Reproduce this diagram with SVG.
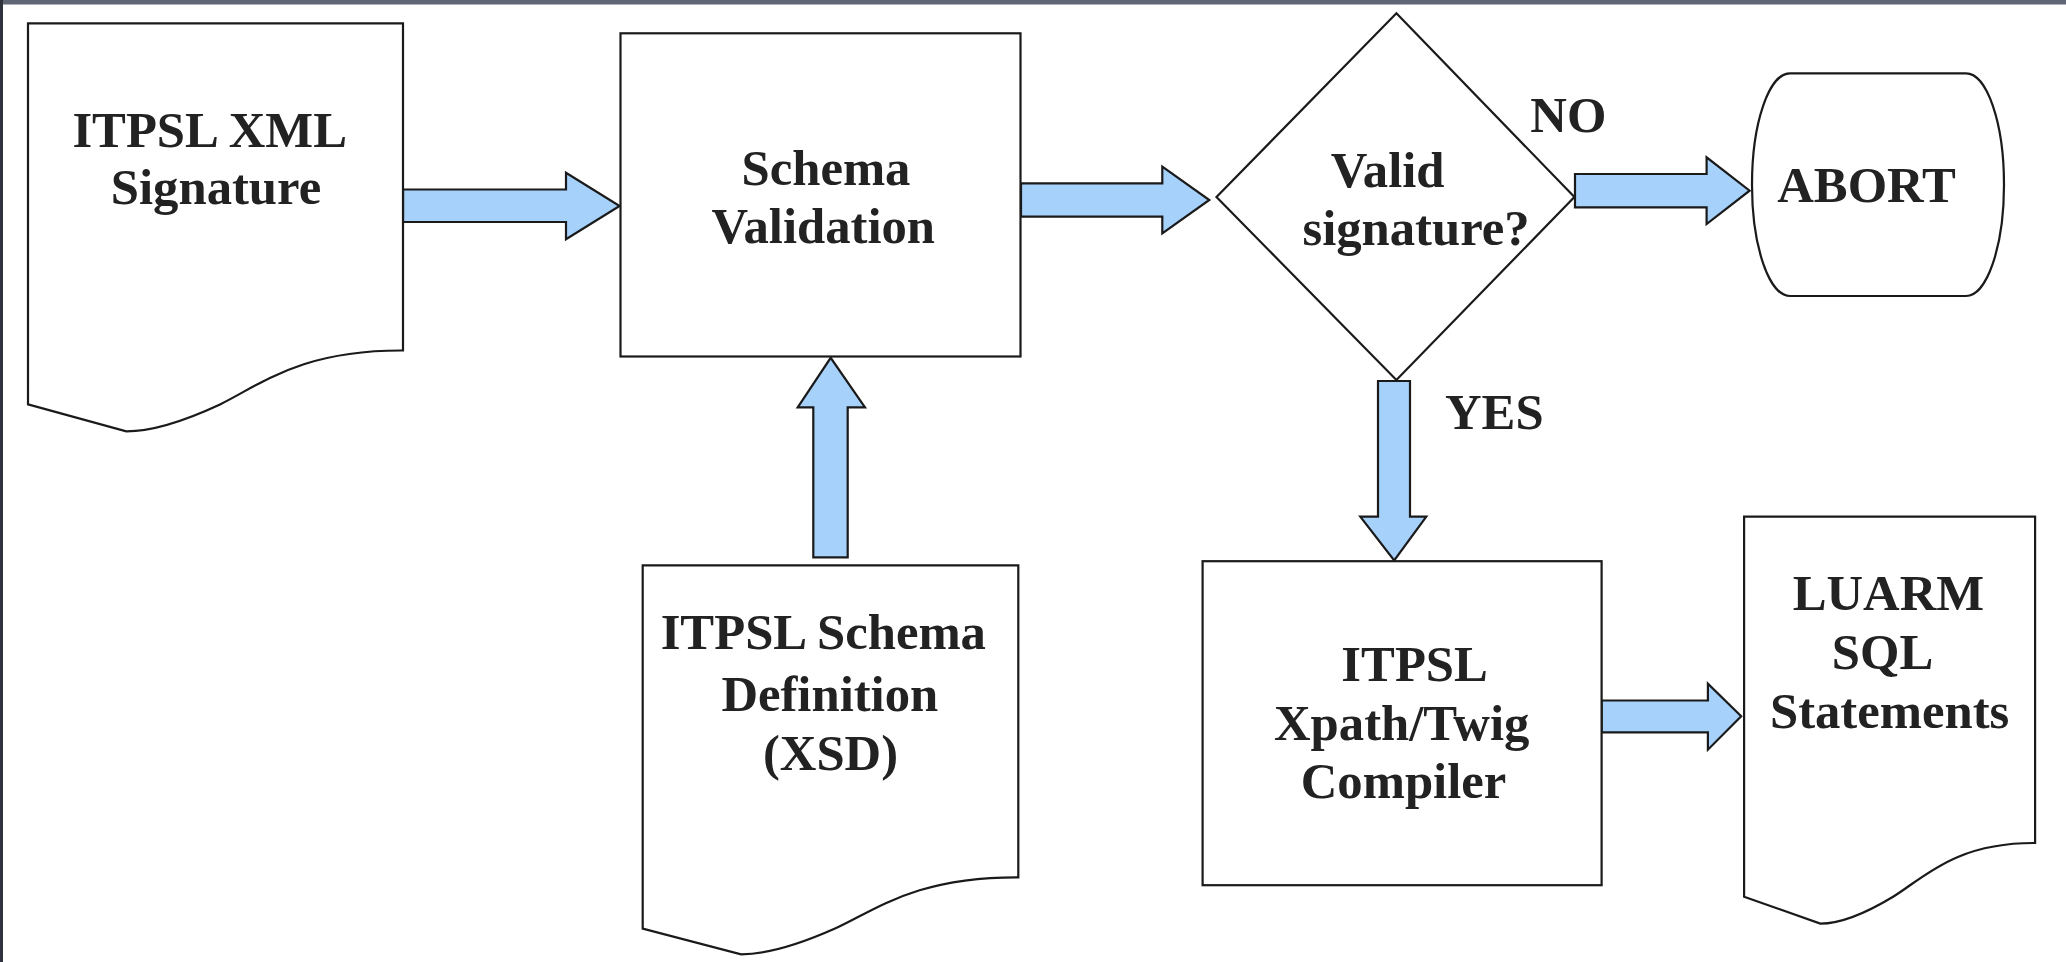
<svg xmlns="http://www.w3.org/2000/svg" width="2066" height="962" viewBox="0 0 2066 962">
<style>
.shape{fill:#ffffff;stroke:#1a1a1a;stroke-width:2.2;stroke-linejoin:miter}
.arrow{fill:#a6d1fa;stroke:#1a1a1a;stroke-width:2.2;stroke-linejoin:miter}
.t{font-family:"Liberation Serif","Times New Roman",serif;font-weight:bold;font-size:50.7px;fill:#222222;text-anchor:middle}
.ts{text-anchor:start}
</style>
<rect x="0" y="0" width="2066" height="962" fill="#ffffff"/>
<rect x="0" y="0" width="2066" height="4.5" fill="#606676"/>
<rect x="0" y="0" width="3" height="962" fill="#2f333d"/>

<g id="connectors">
<polygon class="arrow" points="403,189.5 566,189.5 566,172.7 619.6,206 566,239.3 566,222 403,222"/>
<polygon class="arrow" points="1021,183.3 1162.3,183.3 1162.3,166.7 1209.3,200 1162.3,233.3 1162.3,216.7 1021,216.7"/>
<polygon class="arrow" points="1575,174 1706.6,174 1706.6,157.3 1749.6,190.7 1706.6,224 1706.6,207.3 1575,207.3"/>
<polygon class="arrow" points="813.3,557.4 813.3,407.4 797.7,407.4 830.7,357.8 865,407.4 847.7,407.4 847.7,557.4"/>
<polygon class="arrow" points="1378,381 1410,381 1410,516.6 1426.3,516.6 1394.2,560.4 1360.3,516.6 1378,516.6"/>
<polygon class="arrow" points="1601.6,700.5 1707.9,700.5 1707.9,683.6 1741.2,716.3 1707.9,749.7 1707.9,732.4 1601.6,732.4"/>
</g>

<g id="doc-xml-signature">
<path class="shape" d="M28,23.3 H403 V350.5 C300,350 260,385 220,404.4 C180,423 150,431.3 126.3,431.3 L28,404.4 Z"/>
<text class="t" x="209.7" y="146.7">ITPSL XML</text>
<text class="t" x="216" y="204">Signature</text>
</g>

<g id="schema-validation">
<rect class="shape" x="620.5" y="33.3" width="400" height="323.2"/>
<text class="t" x="826" y="185">Schema</text>
<text class="t" x="823.3" y="243.3">Validation</text>
</g>

<g id="valid-signature">
<polygon class="shape" points="1396.4,13.3 1574.4,197 1396.4,380 1216.5,197"/>
<text class="t" x="1387.7" y="186.7">Valid</text>
<text class="t" x="1416" y="245">signature?</text>
</g>

<g id="label-no">
<text class="t ts" x="1530.3" y="131.7">NO</text>
</g>

<g id="abort">
<path class="shape" d="M1790,73.3 H1966 A38,111.35 0 0 1 1966,296 H1790 A38,111.35 0 0 1 1790,73.3 Z"/>
<text class="t" x="1866.5" y="201.7">ABORT</text>
</g>

<g id="doc-schema-definition">
<path class="shape" d="M642.7,565.3 H1018.3 V877.3 C915,876.9 875.2,910.4 835,928.6 C794.8,946.5 764.8,954.3 741.1,954.3 L642.7,928.6 Z"/>
<text class="t" x="823.3" y="649.4">ITPSL Schema</text>
<text class="t" x="829.8" y="710.9">Definition</text>
<text class="t" x="830.5" y="770.4">(XSD)</text>
</g>

<g id="label-yes">
<text class="t ts" x="1445" y="429.1">YES</text>
</g>

<g id="compiler">
<rect class="shape" x="1202.6" y="561.2" width="399" height="324"/>
<text class="t" x="1414.6" y="680.6">ITPSL</text>
<text class="t" x="1401.7" y="740">Xpath/Twig</text>
<text class="t" x="1403.5" y="797.7">Compiler</text>
</g>

<g id="doc-luarm-sql">
<path class="shape" d="M1744.1,516.6 H2035.1 V843 C1955.1,842.6 1924.2,877.6 1893.1,896.7 C1862,915.5 1838.7,923.6 1820.3,923.6 L1744.1,896.7 Z"/>
<text class="t" x="1888.4" y="609.5">LUARM</text>
<text class="t" x="1882.5" y="669">SQL</text>
<text class="t" x="1889.6" y="727.8">Statements</text>
</g>
</svg>
